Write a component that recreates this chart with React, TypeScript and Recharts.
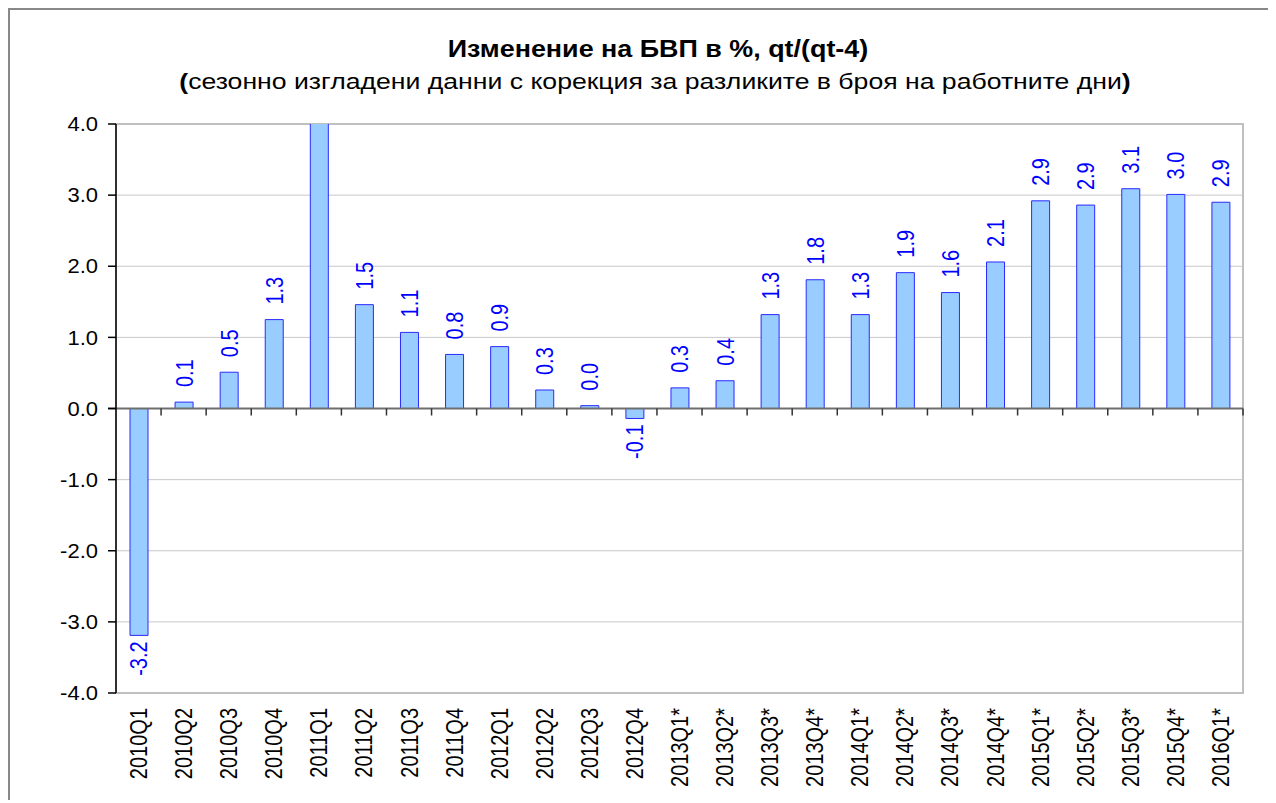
import React from "react";
import {
  Bar,
  BarChart,
  CartesianGrid,
  LabelList,
  ReferenceArea,
  ReferenceLine,
  XAxis,
  YAxis,
} from "recharts";

// quarters on the category axis
const quarters = [
  "2010Q1", "2010Q2", "2010Q3", "2010Q4",
  "2011Q1", "2011Q2", "2011Q3", "2011Q4",
  "2012Q1", "2012Q2", "2012Q3", "2012Q4",
  "2013Q1*", "2013Q2*", "2013Q3*", "2013Q4*",
  "2014Q1*", "2014Q2*", "2014Q3*", "2014Q4*",
  "2015Q1*", "2015Q2*", "2015Q3*", "2015Q4*",
  "2016Q1*",
];

// GDP change in %, qt/(qt-4) (2011Q1 runs off the top)
const gdpChange = [
  -3.19, 0.09, 0.51, 1.25,
  4.5, 1.46, 1.07, 0.76,
  0.87, 0.26, 0.04, -0.14,
  0.29, 0.39, 1.32, 1.81,
  1.32, 1.91, 1.63, 2.06,
  2.92, 2.86, 3.09, 3.01,
  2.9,
];

const yTicks = [-4, -3, -2, -1, 0, 1, 2, 3, 4];

const title = "Изменение на БВП в %, qt/(qt-4)";
const subtitle = "сезонно изгладени данни с корекция за разликите в броя на работните дни";

const data = quarters.map((q, i) => ({ q, v: gdpChange[i] }));

const FONT = "'Liberation Sans', Arial, sans-serif";
const Y_MIN = -4;
const Y_MAX = 4;

const YTick = (props: any) => {
  const { x, y, payload } = props;
  return (
    <text
      transform={`translate(${x},${y}) scale(1.1,1)`}
      textAnchor="end"
      dy="0.36em"
      fontSize={20}
      fontFamily={FONT}
      fill="#000"
    >
      {Number(payload.value).toFixed(1)}
    </text>
  );
};

const XTick = (props: any) => {
  const { x, y, payload } = props;
  return (
    <text
      transform={`translate(${x},${y + 15}) rotate(-90) scale(1,1.18)`}
      textAnchor="end"
      dy="0.36em"
      fontSize={20}
      fontFamily={FONT}
      fill="#000"
    >
      {payload.value}
    </text>
  );
};

const BarValue = (props: any) => {
  const { x, y, width, height, value } = props;
  if (value > Y_MAX || value < Y_MIN) return null;
  const cx = x + width / 2;
  const top = Math.min(y, y + height);
  const bottom = Math.max(y, y + height);
  const neg = value < 0;
  const ty = neg ? bottom + 6 : top - 15;
  return (
    <text
      transform={`translate(${cx},${ty}) rotate(-90) scale(1,1.18)`}
      textAnchor={neg ? "end" : "start"}
      dy="0.36em"
      fontSize={20}
      fontFamily={FONT}
      fill="#0000ff"
    >
      {Number(value).toFixed(1)}
    </text>
  );
};

// zero line with the category tick marks hanging below it
const ZeroAxis = (props: any) => {
  const { x1, x2, y1 } = props;
  const step = (x2 - x1) / quarters.length;
  return (
    <g>
      <line x1={x1 - 8} x2={x2} y1={y1} y2={y1} stroke="#6e6e6e" strokeWidth={2} />
      {quarters.map((_, i) => (
        <line
          key={i}
          x1={x1 + step * (i + 1)}
          x2={x1 + step * (i + 1)}
          y1={y1}
          y2={y1 + 7}
          stroke="#333"
          strokeWidth={1.5}
        />
      ))}
    </g>
  );
};

export default function App() {
  return (
    <div
      style={{
        position: "relative",
        width: 1258,
        height: 790,
        borderTop: "2px solid #888",
        borderLeft: "2px solid #888",
        borderRight: "2px solid #888",
        background: "#fff",
      }}
    >
      <svg
        width={1258}
        height={110}
        style={{ position: "absolute", left: 0, top: 0 }}
      >
        <text
          transform="translate(648,47) scale(1.17,1)"
          textAnchor="middle"
          fontSize={23}
          fontWeight="bold"
          fontFamily={FONT}
          fill="#000"
        >
          {title}
        </text>
        <text
          transform="translate(645,79) scale(1.21,1)"
          textAnchor="middle"
          fontSize={22}
          fontFamily={FONT}
          fill="#000"
        >
          <tspan fontWeight="bold">(</tspan>
          {subtitle}
          <tspan fontWeight="bold">)</tspan>
        </text>
      </svg>
      <BarChart
        width={1258}
        height={790}
        data={data}
        margin={{ top: 114, right: 25, bottom: 7, left: 0 }}
        barSize={18}
      >
        <CartesianGrid vertical={false} stroke="#c8c8c8" strokeWidth={1} />
        <ReferenceArea
          y1={Y_MIN}
          y2={Y_MAX}
          fill="none"
          stroke="#c0c0c0"
          strokeWidth={2}
          fillOpacity={0}
        />
        <XAxis
          dataKey="q"
          interval={0}
          axisLine={false}
          tickLine={false}
          tickSize={0}
          tickMargin={0}
          height={100}
          tick={<XTick />}
        />
        <YAxis
          domain={[Y_MIN, Y_MAX]}
          ticks={yTicks}
          allowDataOverflow
          width={106}
          tickSize={8}
          tickMargin={10}
          axisLine={{ stroke: "#000", strokeWidth: 1.5 }}
          tickLine={{ stroke: "#000", strokeWidth: 1.5 }}
          tick={<YTick />}
        />
        <Bar
          dataKey="v"
          fill="#99ccff"
          stroke="#2a2aff"
          strokeWidth={1}
          isAnimationActive={false}
        >
          <LabelList dataKey="v" content={<BarValue />} />
        </Bar>
        <ReferenceLine y={0} shape={<ZeroAxis />} />
      </BarChart>
    </div>
  );
}
